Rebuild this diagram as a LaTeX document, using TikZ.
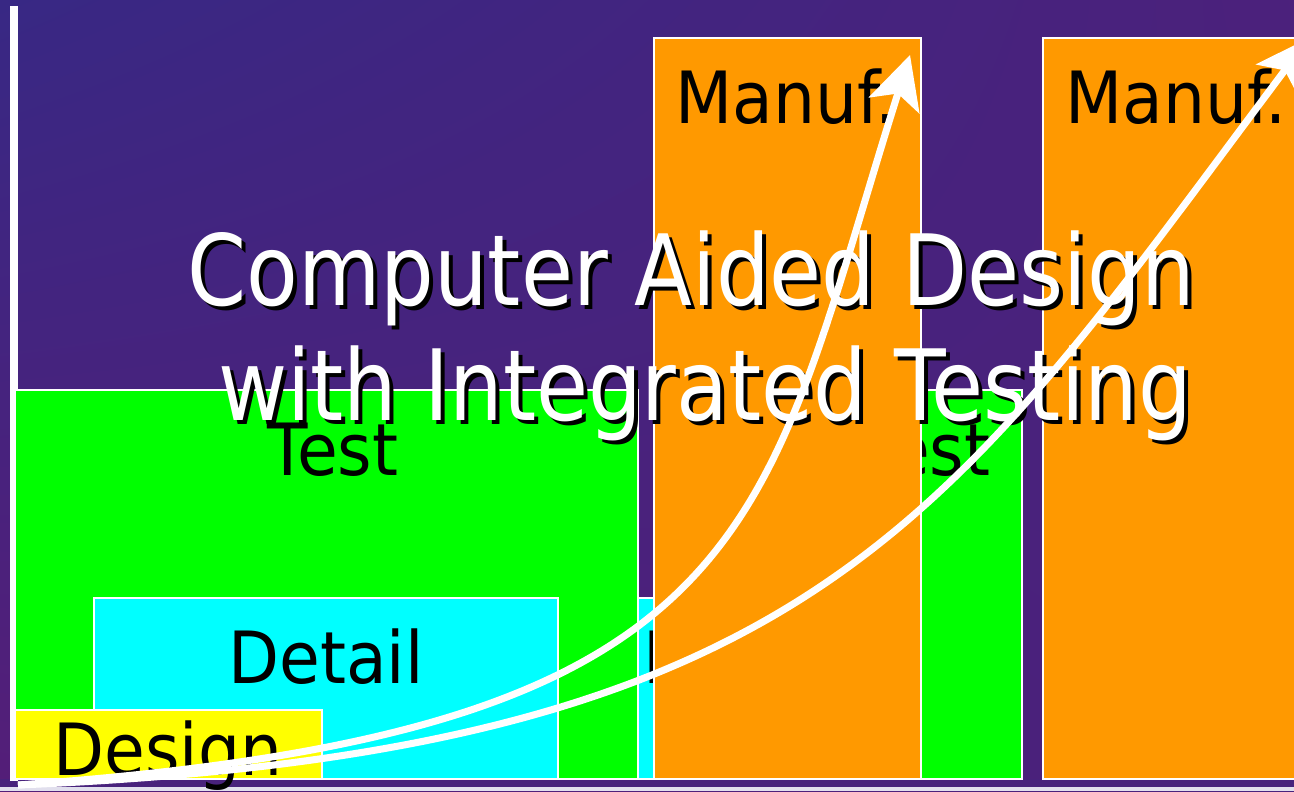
\documentclass[tikz,border=0pt]{standalone}
\usepackage{fontspec}
\setmainfont{DejaVu Sans}[FakeStretch=0.86]
\newfontfamily\phasefont{DejaVu Sans}[FakeStretch=0.92]
\usepackage{tikz}
\usetikzlibrary{arrows.meta,shadings}
\definecolor{bgblue}{RGB}{56,40,132}
\definecolor{bgpurple}{RGB}{84,30,120}
\definecolor{bgmid}{RGB}{72,34,124}
\definecolor{cadgreen}{RGB}{0,255,0}
\definecolor{cadcyan}{RGB}{0,255,255}
\definecolor{cadyellow}{RGB}{255,255,0}
\definecolor{cadorange}{RGB}{255,153,0}
\tikzstyle{phasebox} = [draw=white, line width=1.1pt]
\tikzstyle{phasetext} = [anchor=base, inner sep=0pt, text=black, font=\phasefont\fontsize{41}{44}\selectfont]
\tikzstyle{headline} = [anchor=base, inner sep=0pt, font=\fontsize{56}{60}\selectfont]
\tikzstyle{growth} = [white, line width=4pt, -{Stealth[length=30pt, width=30pt, inset=7pt]}]

\begin{document}
\begin{tikzpicture}[x=0.02cm, y=-0.02cm]
\useasboundingbox (0,0) rectangle (1294,791);
\clip (0,0) rectangle (1294,791);

% Background and axes
\shade[upper left=bgblue, upper right=bgpurple!70!bgblue, lower left=bgpurple, lower right=bgmid] (0,0) rectangle (1294,791);
\fill[bgmid] (0,779) rectangle (1294,787);
\fill[white!85!bgblue] (0,787) rectangle (1294,791);
\draw[white, line width=4.5pt] (14,6) -- (14,781);

% First cycle
\path[phasebox, fill=cadgreen] (15,390) rectangle (638,779);
\node (test1) [phasetext] at (333,475) {Test};
\path[phasebox, fill=cadcyan] (94,598) rectangle (558,779);
\node (detail1) [phasetext] at (326,683) {Detail};
\path[phasebox, fill=cadyellow] (15,710) rectangle (322,779);
\node (design1) [phasetext] at (168,775) {Design};

% Second cycle
\path[phasebox, fill=cadgreen] (820,390) rectangle (1022,779);
\node (test2) [phasetext] at (925,475) {Test};
\path[phasebox, fill=cadcyan] (638,598) rectangle (844,779);
\node (detail2) [phasetext] at (741,683) {Detail};

% Manufacturing
\path[phasebox, fill=cadorange] (654,38) rectangle (921,779);
\node (manuf1) [phasetext] at (786,123) {Manuf.};
\path[phasebox, fill=cadorange] (1043,38) rectangle (1312,779);
\node (manuf2) [phasetext] at (1176,123) {Manuf.};

% Title with drop shadow
\node (shadowA) [headline, black] at (695,309) {Computer Aided Design};
\node (titleA) [headline, white] at (691,305) {Computer Aided Design};
\node (shadowB) [headline, black] at (709,424) {with Integrated Testing};
\node (titleB) [headline, white] at (705,420) {with Integrated Testing};

% Growth curves
\coordinate (origin) at (18,785);
\coordinate (tipA) at (910,55);
\coordinate (tipB) at (1309,38);
\draw[growth] (origin) .. controls (768,732) and (760,530) .. (tipA);
\draw[growth] (origin) .. controls (818,752) and (949,518) .. (tipB);
\end{tikzpicture}
\end{document}
